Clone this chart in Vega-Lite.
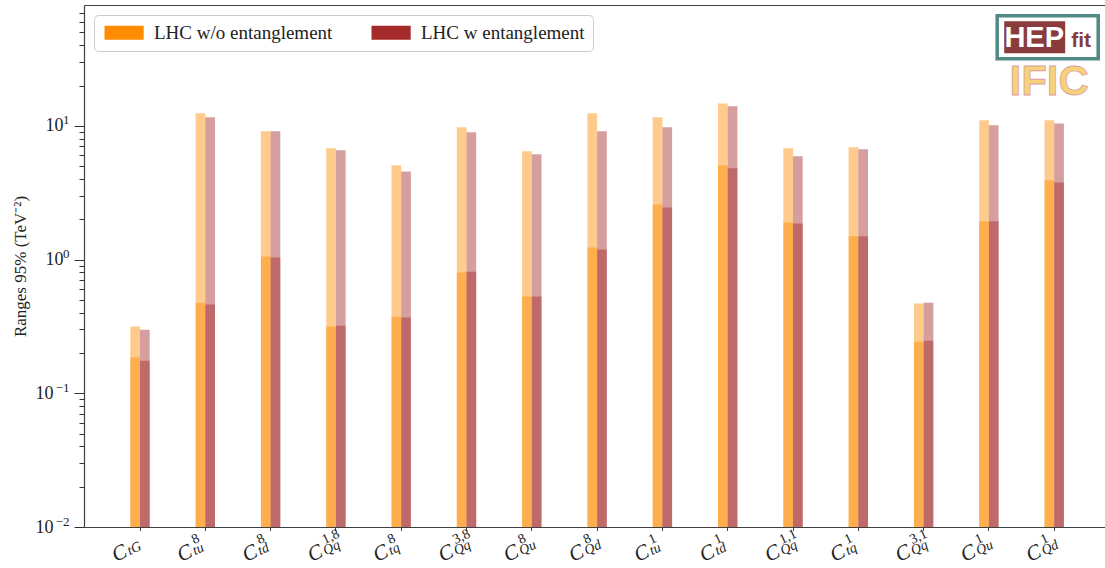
{
  "$schema": "https://vega.github.io/schema/vega-lite/v6.json",
  "width": 1021,
  "height": 522,
  "autosize": {"type": "none"},
  "padding": {"left": 84, "top": 5, "right": 0, "bottom": 41},
  "background": "white",
  "config": {"view": {"stroke": null}, "font": "Liberation Serif"},
  "data": {
    "values": [
      {"key": "tG|", "series": "LHC w/o entanglement", "lo": 0.185, "hi": 0.315},
      {"key": "tG|", "series": "LHC w entanglement", "lo": 0.175, "hi": 0.299},
      {"key": "tu|8", "series": "LHC w/o entanglement", "lo": 0.476, "hi": 12.4},
      {"key": "tu|8", "series": "LHC w entanglement", "lo": 0.46, "hi": 11.6},
      {"key": "td|8", "series": "LHC w/o entanglement", "lo": 1.053, "hi": 9.1},
      {"key": "td|8", "series": "LHC w entanglement", "lo": 1.035, "hi": 9.1},
      {"key": "Qq|1,8", "series": "LHC w/o entanglement", "lo": 0.315, "hi": 6.78},
      {"key": "Qq|1,8", "series": "LHC w entanglement", "lo": 0.32, "hi": 6.55},
      {"key": "tq|8", "series": "LHC w/o entanglement", "lo": 0.374, "hi": 5.06},
      {"key": "tq|8", "series": "LHC w entanglement", "lo": 0.368, "hi": 4.56},
      {"key": "Qq|3,8", "series": "LHC w/o entanglement", "lo": 0.8, "hi": 9.75},
      {"key": "Qq|3,8", "series": "LHC w entanglement", "lo": 0.81, "hi": 8.94},
      {"key": "Qu|8", "series": "LHC w/o entanglement", "lo": 0.528, "hi": 6.44},
      {"key": "Qu|8", "series": "LHC w entanglement", "lo": 0.528, "hi": 6.12},
      {"key": "Qd|8", "series": "LHC w/o entanglement", "lo": 1.23, "hi": 12.4},
      {"key": "Qd|8", "series": "LHC w entanglement", "lo": 1.19, "hi": 9.1},
      {"key": "tu|1", "series": "LHC w/o entanglement", "lo": 2.58, "hi": 11.6},
      {"key": "tu|1", "series": "LHC w entanglement", "lo": 2.45, "hi": 9.75},
      {"key": "td|1", "series": "LHC w/o entanglement", "lo": 5.06, "hi": 14.7},
      {"key": "td|1", "series": "LHC w entanglement", "lo": 4.81, "hi": 14.0},
      {"key": "Qq|1,1", "series": "LHC w/o entanglement", "lo": 1.89, "hi": 6.78},
      {"key": "Qq|1,1", "series": "LHC w entanglement", "lo": 1.86, "hi": 5.91},
      {"key": "tq|1", "series": "LHC w/o entanglement", "lo": 1.49, "hi": 6.9},
      {"key": "tq|1", "series": "LHC w entanglement", "lo": 1.49, "hi": 6.67},
      {"key": "Qq|3,1", "series": "LHC w/o entanglement", "lo": 0.243, "hi": 0.468},
      {"key": "Qq|3,1", "series": "LHC w entanglement", "lo": 0.247, "hi": 0.476},
      {"key": "Qu|1", "series": "LHC w/o entanglement", "lo": 1.93, "hi": 11.0},
      {"key": "Qu|1", "series": "LHC w entanglement", "lo": 1.93, "hi": 10.1},
      {"key": "Qd|1", "series": "LHC w/o entanglement", "lo": 3.91, "hi": 11.0},
      {"key": "Qd|1", "series": "LHC w entanglement", "lo": 3.77, "hi": 10.4}
    ]
  },
  "layer": [
    {
      "mark": {"type": "bar", "opacity": 0.45},
      "encoding": {
        "x": {
          "field": "key", "type": "nominal", "sort": null,
          "scale": {"paddingInner": 0, "paddingOuter": 0.3178, "align": 0.5627},
          "axis": {
            "orient": "bottom", "title": null, "grid": false,
            "labelExpr": "'C'", "labelFont": "Liberation Serif", "labelFontStyle": "italic",
            "labelFontSize": 21, "labelAngle": -25, "labelAlign": "center", "labelBaseline": "middle",
            "labelOffset": -20.5, "labelPadding": 22.5, "labelOverlap": false, "labelFlush": false,
            "labelColor": "#222222",
            "ticks": true, "tickSize": 3.5, "tickColor": "#404040", "tickWidth": 1,
            "domain": true, "domainColor": "#404040", "domainWidth": 1.2
          }
        },
        "xOffset": {
          "field": "series", "type": "nominal",
          "scale": {"domain": ["LHC w/o entanglement", "LHC w entanglement"], "paddingInner": 0, "paddingOuter": 0, "range": [22.95, 42.35]}
        },
        "y": {
          "field": "hi", "type": "quantitative", "stack": null,
          "scale": {"type": "log", "domain": [0.01, 80], "nice": false},
          "axis": {
            "orient": "left",
            "values": [0.01, 0.02, 0.03, 0.04, 0.05, 0.06, 0.07, 0.08, 0.09, 0.1, 0.2, 0.3, 0.4, 0.5, 0.6, 0.7, 0.8, 0.9, 1, 2, 3, 4, 5, 6, 7, 8, 9, 10, 20, 30, 40, 50, 60, 70],
            "tickCount": 200,
            "labelExpr": "abs(log(datum.value) / LN10 - round(log(datum.value) / LN10)) < 0.001 ? '10' : ''",
            "grid": false, "tickWidth": 1, "tickColor": "#333333",
            "tickSize": {"condition": {"test": "abs(log(datum.value) / LN10 - round(log(datum.value) / LN10)) < 0.001", "value": 10}, "value": 5},
            "domain": true, "domainColor": "#404040", "domainWidth": 1.2,
            "labelFont": "Liberation Serif", "labelFontSize": 18, "labelColor": "#222222",
            "labelAlign": "right", "labelBaseline": "middle", "labelOverlap": false, "labelFlush": false,
            "labelPadding": {"condition": {"test": "datum.value < 0.5", "value": 21}, "value": 11},
            "title": "Ranges 95% (TeV⁻²)", "titleFont": "Liberation Serif", "titleFontSize": 17,
            "titleFontWeight": "normal", "titleColor": "#222222", "titlePadding": 6
          }
        },
        "color": {
          "field": "series", "type": "nominal",
          "scale": {"domain": ["LHC w/o entanglement", "LHC w entanglement"], "range": ["#ff8c00", "#a52a2a"]},
          "legend": {
            "orient": "top-left", "direction": "horizontal", "title": null,
            "symbolType": "M-1,-1L4.6,-1L4.6,1L-1,1Z", "symbolSize": 196,
            "symbolOpacity": 1, "symbolStrokeWidth": 0,
            "labelFont": "Liberation Serif", "labelFontSize": 19, "labelColor": "#222222",
            "labelOffset": 33, "labelLimit": 0, "columnPadding": 36,
            "padding": 8, "offset": 10,
            "strokeColor": "#cccccc", "fillColor": "rgba(255,255,255,0.8)", "cornerRadius": 4,
            "encode": {"symbols": {"update": {"opacity": {"value": 1}, "fillOpacity": {"value": 1}}}}
          }
        }
      }
    },
    {
      "mark": {"type": "bar", "opacity": 0.45},
      "encoding": {
        "x": {
          "field": "key", "type": "nominal", "sort": null,
          "axis": {
            "orient": "bottom", "title": null, "grid": false,
            "labelExpr": "split(datum.value, '|')[1]", "labelFont": "Liberation Serif",
            "labelFontSize": 14, "labelAngle": -25, "labelAlign": "left", "labelBaseline": "middle",
            "labelOffset": -13, "labelPadding": 13, "labelOverlap": false, "labelFlush": false,
            "labelColor": "#222222", "ticks": false, "domain": false
          }
        },
        "xOffset": {"field": "series", "type": "nominal"},
        "y": {
          "field": "lo", "type": "quantitative", "stack": null,
          "axis": {
            "orient": "left", "values": [0.01, 0.1, 1, 10],
            "labelExpr": "datum.value < 0.5 ? '−' + round(-log(datum.value) / LN10) : '' + round(log(datum.value) / LN10)",
            "grid": false, "ticks": false, "domain": false,
            "labelFont": "Liberation Serif", "labelFontSize": 13, "labelColor": "#222222",
            "labelAlign": "right", "labelBaseline": "middle", "labelPadding": 15, "labelOffset": -6,
            "labelOverlap": false, "labelFlush": false,
            "title": null
          }
        },
        "color": {"field": "series", "type": "nominal"}
      }
    },
    {
      "mark": {"type": "bar", "opacity": 0},
      "encoding": {
        "x": {
          "field": "key", "type": "nominal", "sort": null,
          "axis": {
            "orient": "bottom", "title": null, "grid": false,
            "labelExpr": "split(datum.value, '|')[0]", "labelFont": "Liberation Serif", "labelFontStyle": "italic",
            "labelFontSize": 14, "labelAngle": -25, "labelAlign": "left", "labelBaseline": "middle",
            "labelOffset": -12, "labelPadding": 24, "labelOverlap": false, "labelFlush": false,
            "labelColor": "#222222", "ticks": false, "domain": false
          }
        },
        "y": {"field": "hi", "type": "quantitative", "stack": null, "axis": null}
      }
    },
    {
      "mark": {"type": "bar", "opacity": 0},
      "encoding": {
        "x": {
          "field": "key", "type": "nominal", "sort": null,
          "axis": {
            "orient": "top", "title": null, "grid": false, "labels": false, "ticks": false,
            "domain": true, "domainColor": "#404040", "domainWidth": 1.2
          }
        },
        "y": {"field": "hi", "type": "quantitative", "stack": null, "axis": null}
      }
    },
    {
      "data": {"values": [{"part": "HEPfit"}]},
      "layer": [
        {
          "mark": {"type": "point", "shape": "M-1.14,-0.43L0.88,-0.43L0.88,0.43L-1.14,0.43Z", "size": 10000, "filled": true, "fill": "white", "stroke": "#4f8a84", "strokeWidth": 3.5, "opacity": 1},
          "encoding": {"x": {"datum": "Qd|1", "type": "nominal", "axis": null}, "y": {"datum": 45.9, "type": "quantitative", "axis": null}}
        },
        {
          "mark": {"type": "point", "shape": "M-1.0,-0.32L0.22,-0.32L0.22,0.32L-1.0,0.32Z", "size": 10000, "filled": true, "fill": "#8a3b3b", "strokeWidth": 0, "opacity": 1},
          "encoding": {"x": {"datum": "Qd|1", "type": "nominal", "axis": null}, "y": {"datum": 45.9, "type": "quantitative", "axis": null}}
        },
        {
          "mark": {"type": "text", "text": "HEP", "font": "Liberation Sans", "fontWeight": "bold", "fontSize": 29, "fill": "white", "align": "center", "baseline": "middle", "dx": -20, "dy": 1},
          "encoding": {"x": {"datum": "Qd|1", "type": "nominal", "axis": null}, "y": {"datum": 45.9, "type": "quantitative", "axis": null}}
        },
        {
          "mark": {"type": "text", "text": "fit", "font": "Liberation Sans", "fontWeight": "bold", "fontSize": 21, "fill": "#8a3b3b", "align": "center", "baseline": "middle", "dx": 27, "dy": 4},
          "encoding": {"x": {"datum": "Qd|1", "type": "nominal", "axis": null}, "y": {"datum": 45.9, "type": "quantitative", "axis": null}}
        },
        {
          "mark": {"type": "text", "text": "IFIC", "font": "Liberation Sans", "fontWeight": "bold", "fontSize": 42, "fill": "#f7d27a", "stroke": "#d9a0a0", "strokeWidth": 0.8, "align": "center", "baseline": "middle", "dx": -5, "dy": 2},
          "encoding": {"x": {"datum": "Qd|1", "type": "nominal", "axis": null}, "y": {"datum": 21.9, "type": "quantitative", "axis": null}}
        }
      ]
    }
  ],
  "resolve": {"axis": {"x": "independent", "y": "independent"}}
}
